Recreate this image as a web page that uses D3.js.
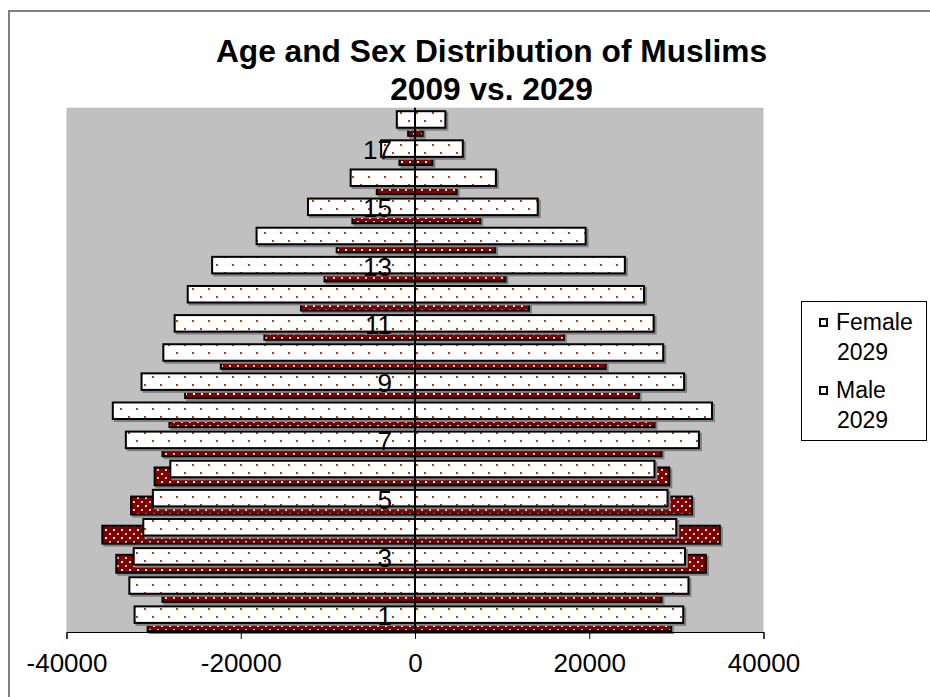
<!DOCTYPE html>
<html>
<head>
<meta charset="utf-8">
<script src="https://cdn.jsdelivr.net/npm/d3@7"></script>
<style>
  html, body { margin: 0; padding: 0; background: #fff; }
  svg { display: block; font-family: "Liberation Sans", Arial, sans-serif; }
</style>
</head>
<body>
<svg id="chart" width="930" height="697"></svg>
<script>
// ---- data ----
const titleLines = ["Age and Sex Distribution of Muslims", "2009 vs. 2029"];
const categories = [1, 2, 3, 4, 5, 6, 7, 8, 9, 10, 11, 12, 13, 14, 15, 16, 17, 18];
const categoryLabels = ["1", "", "3", "", "5", "", "7", "", "9", "", "11", "", "13", "", "15", "", "17", ""];
const male2029   = [32300, 32900, 32400, 31300, 30200, 28200, 33300, 34800, 31500, 29000, 27700, 26200, 23400, 18300, 12400, 7500, 4000, 2200];
const male2009   = [30800, 29100, 34400, 36000, 32700, 30000, 29100, 28300, 26500, 22400, 17400, 13200, 10500, 9100, 7300, 4500, 1900, 900];
const female2029 = [30900, 31500, 31100, 30100, 29100, 27600, 32700, 34200, 31000, 28600, 27500, 26400, 24200, 19700, 14200, 9400, 5600, 3600];
const female2009 = [29500, 28400, 33500, 35100, 31900, 29300, 28400, 27600, 25800, 22000, 17200, 13200, 10500, 9300, 7600, 4900, 2100, 1000];
const xTicks = [-40000, -20000, 0, 20000, 40000];
const legendItems = [["Female", "2029"], ["Male", "2029"]];

// ---- layout ----
const svg = d3.select("#chart");
const plot = { left: 66.5, right: 763.5, top: 107.7, bottom: 632 };
const x = d3.scaleLinear().domain([-40000, 40000]).range([plot.left, plot.right]);
const y = d3.scaleBand().domain(categories.slice().reverse()).range([plot.top, plot.bottom]).padding(0);
const bw = y.bandwidth();

// patterns
const defs = svg.append("defs");
const pw = defs.append("pattern").attr("id", "whiteDots").attr("patternUnits", "userSpaceOnUse")
  .attr("width", 16).attr("height", 16);
pw.append("rect").attr("width", 16).attr("height", 16).attr("fill", "#ffffff");
pw.append("rect").attr("x", 0).attr("y", 0).attr("width", 2).attr("height", 2).attr("fill", "#b8400c");
pw.append("rect").attr("x", 8).attr("y", 8).attr("width", 2).attr("height", 2).attr("fill", "#b8400c");
const pr = defs.append("pattern").attr("id", "redDots").attr("patternUnits", "userSpaceOnUse")
  .attr("width", 8).attr("height", 8);
pr.append("rect").attr("width", 8).attr("height", 8).attr("fill", "#800000");
pr.append("rect").attr("x", 1).attr("y", 1).attr("width", 2).attr("height", 2).attr("fill", "#ffffff");
pr.append("rect").attr("x", 5).attr("y", 5).attr("width", 2).attr("height", 2).attr("fill", "#f0c0c0");

// outer chart border (partially visible)
svg.append("path").attr("d", "M9,697 L9,11 L930,11")
  .attr("fill", "none").attr("stroke", "#808080").attr("stroke-width", 2);

// title
const title = svg.append("text").attr("text-anchor", "middle")
  .attr("font-weight", "bold").attr("font-size", 31.7).attr("fill", "#000");
title.append("tspan").attr("x", 491.5).attr("y", 61.5).text(titleLines[0]);
title.append("tspan").attr("x", 491.5).attr("y", 99.5).text(titleLines[1]);

// plot area
svg.append("rect").attr("x", plot.left).attr("y", plot.top)
  .attr("width", plot.right - plot.left).attr("height", plot.bottom - plot.top)
  .attr("fill", "#c0c0c0");

// bar geometry (outer edges)
const whiteTop = bw * 0.086, whiteH = bw * 0.636;
const redTop = bw * 0.316, redH = bw * 0.684;

function barData(vals, sign) {
  return categories.map((c, i) => ({ c, v: vals[i] * sign }));
}
const series = [
  { data: barData(male2009, -1), fill: "url(#redDots)", top: redTop, h: redH },
  { data: barData(female2009, 1), fill: "url(#redDots)", top: redTop, h: redH },
  { data: barData(male2029, -1), fill: "url(#whiteDots)", top: whiteTop, h: whiteH },
  { data: barData(female2029, 1), fill: "url(#whiteDots)", top: whiteTop, h: whiteH }
];

const barsG = svg.append("g");
series.forEach(s => {
  const g = barsG.append("g");
  // shadow
  g.selectAll("rect.sh").data(s.data).join("rect").attr("class", "sh")
    .attr("x", d => Math.min(x(0), x(d.v)) + 2)
    .attr("y", d => y(d.c) + s.top + 2)
    .attr("width", d => Math.abs(x(d.v) - x(0)))
    .attr("height", s.h)
    .attr("fill", "#808080");
  g.selectAll("rect.bar").data(s.data).join("rect").attr("class", "bar")
    .attr("x", d => Math.min(x(0), x(d.v)) + (d.v < 0 ? 1 : 0))
    .attr("y", d => y(d.c) + s.top + 1)
    .attr("width", d => Math.abs(x(d.v) - x(0)) - 1)
    .attr("height", s.h - 2)
    .attr("fill", s.fill)
    .attr("stroke", "#000").attr("stroke-width", 2);
});

// category axis line at 0
svg.append("line").attr("x1", x(0)).attr("x2", x(0))
  .attr("y1", plot.top).attr("y2", plot.bottom)
  .attr("stroke", "#000").attr("stroke-width", 2);

// category labels
svg.append("g").selectAll("text").data(categories.filter((c, i) => categoryLabels[i] !== ""))
  .join("text")
  .attr("x", x(0) - 23)
  .attr("y", c => y(c) + bw / 2 + 7.7)
  .attr("text-anchor", "end")
  .attr("font-size", 26)
  .attr("fill", "#000")
  .text(c => categoryLabels[categories.indexOf(c)]);

// x axis
const xAxis = d3.axisBottom(x).tickValues(xTicks).tickSize(7).tickPadding(15)
  .tickFormat(d => String(d));
const xg = svg.append("g").attr("transform", `translate(0,${plot.bottom})`).call(xAxis);
xg.select(".domain").attr("stroke", "#000").attr("stroke-width", 1);
xg.selectAll(".tick line").attr("stroke", "#000");
xg.selectAll(".tick text").attr("font-size", 26).attr("fill", "#000")
  .attr("font-family", "'Liberation Sans', Arial, sans-serif");

// legend
const lg = svg.append("g");
lg.append("rect").attr("x", 801.5).attr("y", 301.5).attr("width", 125).attr("height", 139)
  .attr("fill", "#fff").attr("stroke", "#000").attr("stroke-width", 1);
const legendY = [330, 398];
legendItems.forEach((it, i) => {
  const by = legendY[i];
  lg.append("rect").attr("x", 820).attr("y", by - 11).attr("width", 7).attr("height", 7)
    .attr("fill", "#fff").attr("stroke", "#000").attr("stroke-width", 2);
  if (i === 0) {
    lg.append("rect").attr("x", 825).attr("y", by - 11).attr("width", 1.5).attr("height", 1.5).attr("fill", "#c04000");
  }
  const t = lg.append("text").attr("font-size", 23).attr("fill", "#000");
  t.append("tspan").attr("x", 836).attr("y", by).text(it[0]);
  t.append("tspan").attr("x", 837).attr("y", by + 30).text(it[1]);
});
</script>
</body>
</html>
